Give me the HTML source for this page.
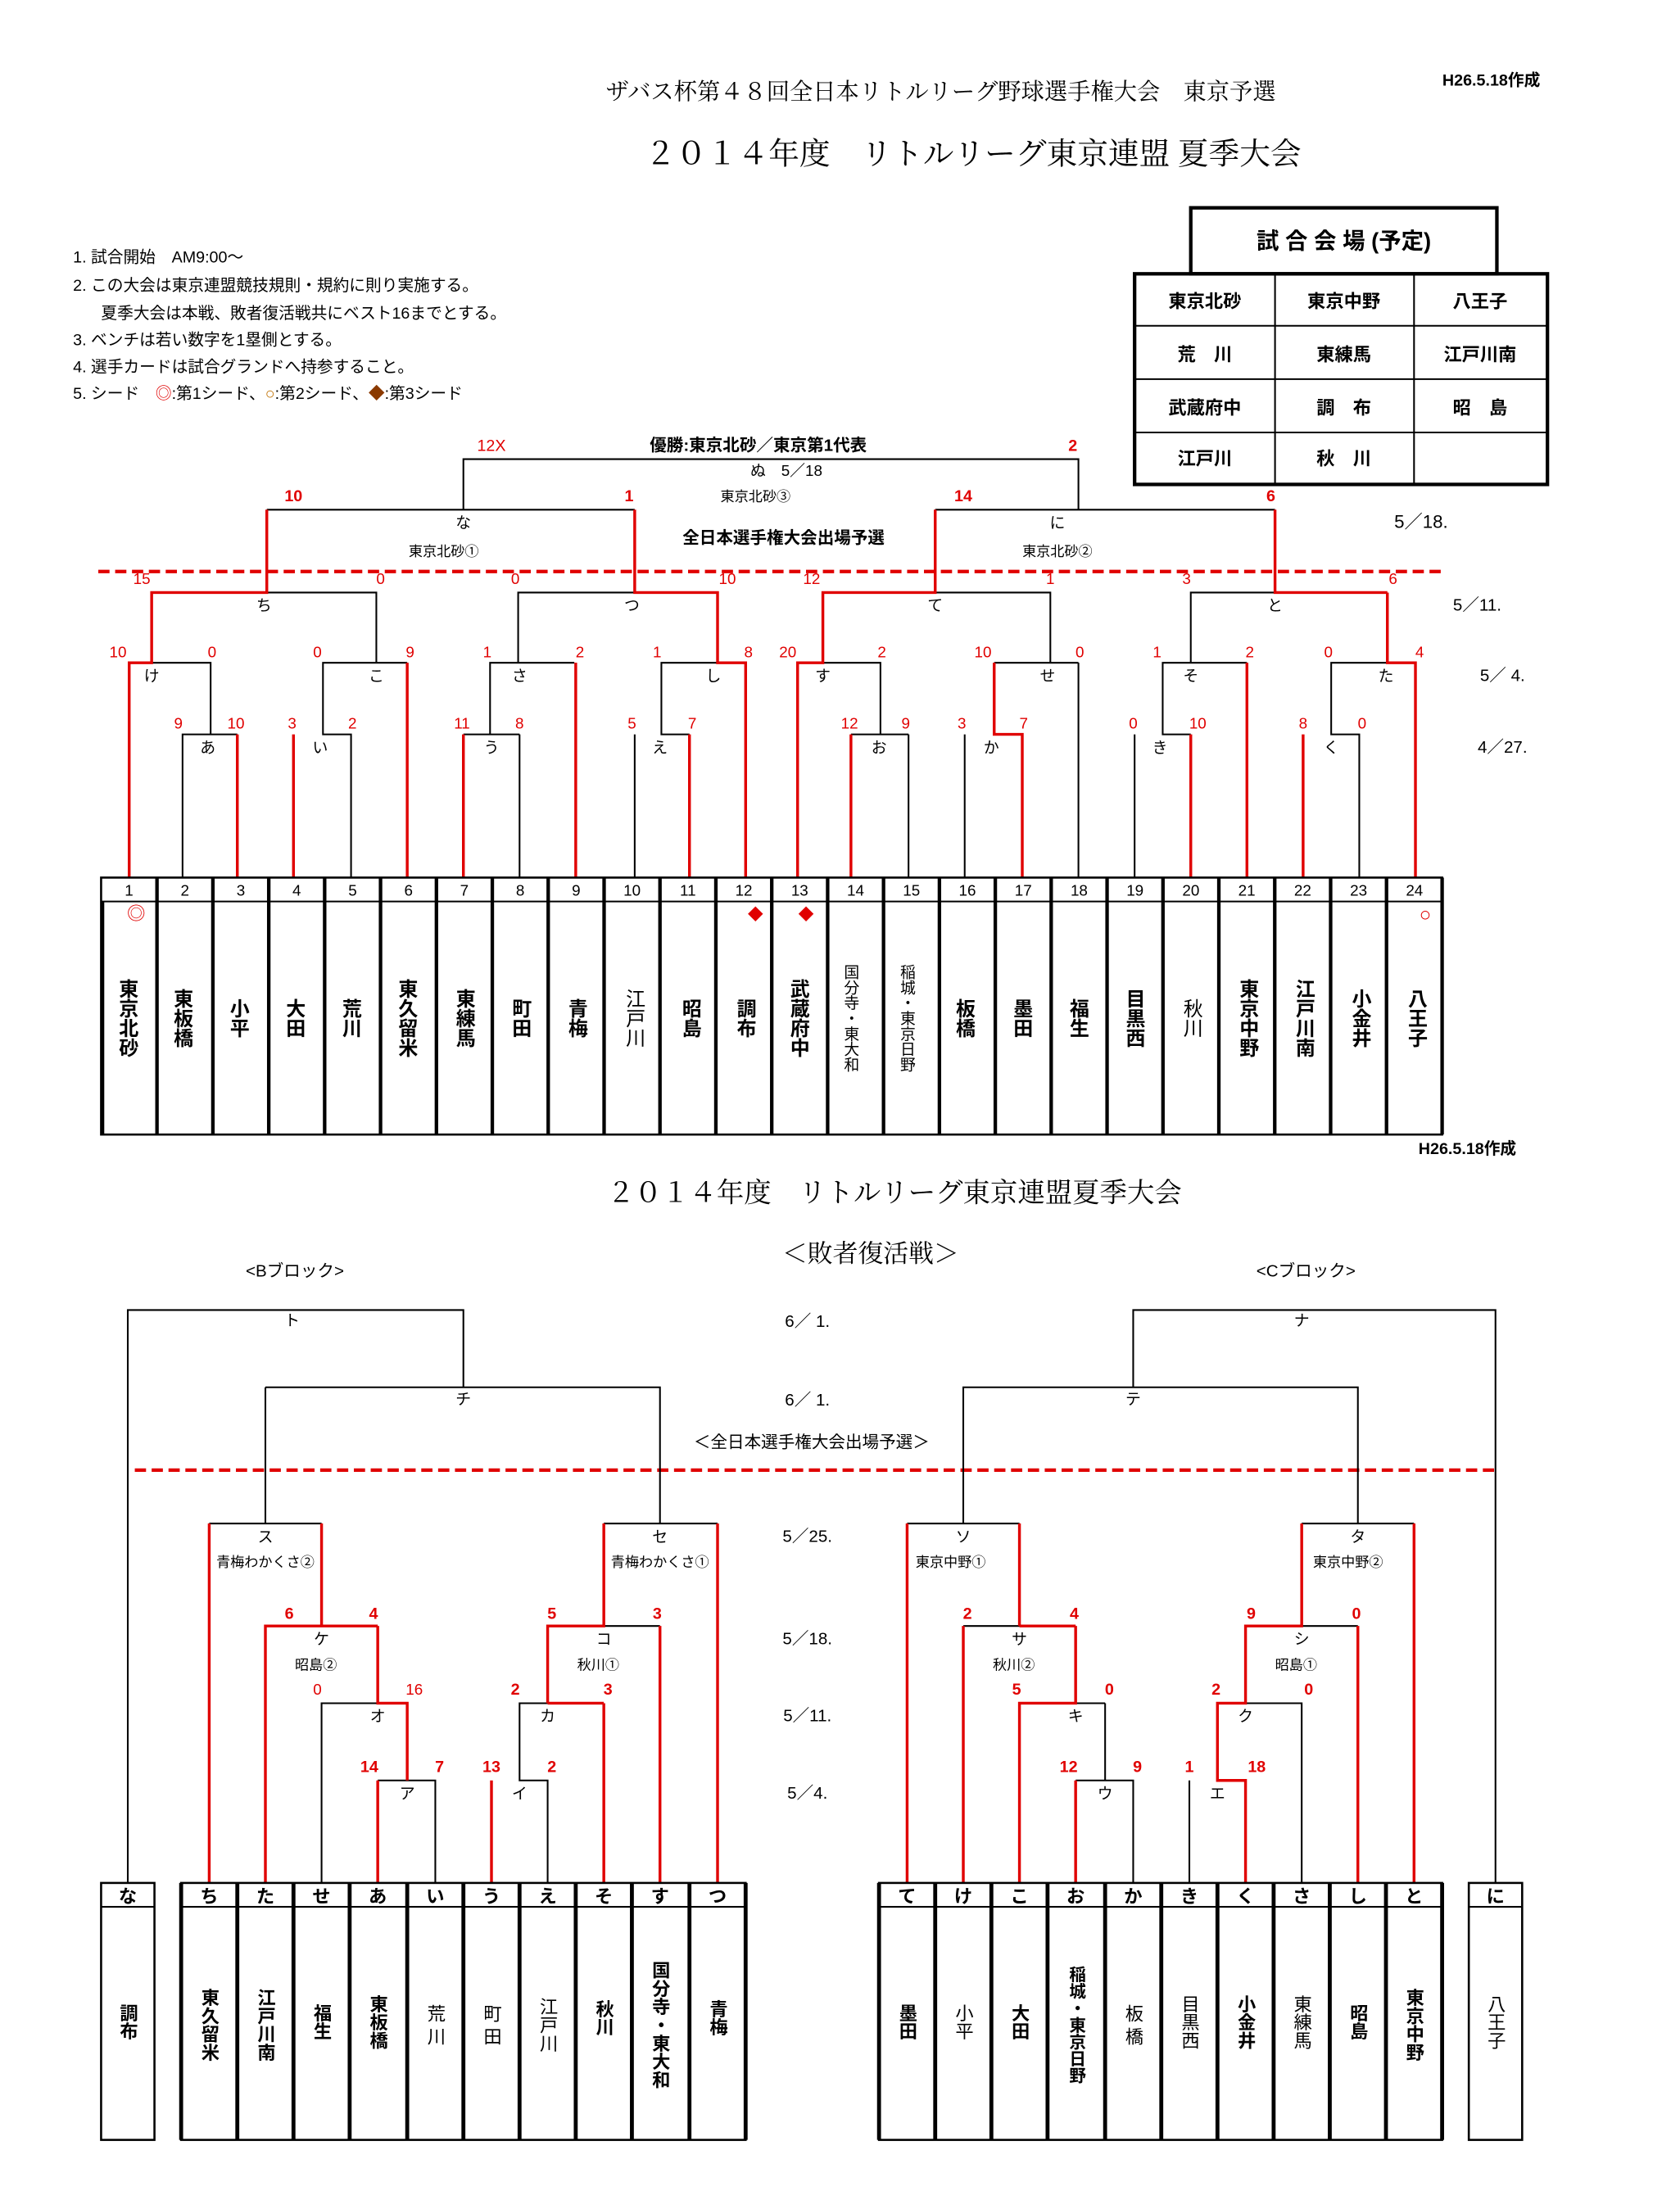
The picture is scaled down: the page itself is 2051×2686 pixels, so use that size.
<!DOCTYPE html>
<html><head><meta charset="utf-8"><style>
html,body{margin:0;padding:0;background:#fff}
svg{display:block}
text{font-family:"Liberation Sans","Noto Sans CJK JP",sans-serif;fill:#000}
.s{font-size:11px;fill:#e00000;text-anchor:middle}
.sb{font-size:11.5px;fill:#e00000;text-anchor:middle;font-weight:bold}
.l{font-size:11px;text-anchor:middle}
.n{font-size:11px;text-anchor:middle}
.v{font-size:14px;font-weight:bold;writing-mode:vertical-rl;text-anchor:middle}
.vs{font-size:11px;writing-mode:vertical-rl;text-anchor:middle}
.d{font-size:12px;text-anchor:middle}
.k{fill:none;stroke:#000;stroke-width:1.2}
.r{fill:none;stroke:#e00000;stroke-width:2}
.h{font-size:13px;font-weight:bold;text-anchor:middle}
</style></head><body>
<svg width="2051" height="2686" viewBox="0 0 1196.4 1566.8" xmlns="http://www.w3.org/2000/svg">
<!-- Header -->
<text x="670" y="71" style="font-size:16.5px;text-anchor:middle;font-family:'Liberation Serif','Noto Serif CJK SC',serif">ザバス杯第４８回全日本リトルリーグ野球選手権大会　東京予選</text>
<text x="1062" y="61" style="font-size:11.5px;font-weight:bold;text-anchor:middle">H26.5.18作成</text>
<text x="693" y="117" style="font-size:22px;text-anchor:middle;font-family:'Liberation Serif','Noto Serif CJK SC',serif">２０１４年度　リトルリーグ東京連盟 夏季大会</text>
<!-- notes -->
<g style="font-size:11.5px">
<text x="52" y="187">1. 試合開始　AM9:00〜</text>
<text x="52" y="207">2. この大会は東京連盟競技規則・規約に則り実施する。</text>
<text x="72" y="227">夏季大会は本戦、敗者復活戦共にベスト16までとする。</text>
<text x="52" y="246">3. ベンチは若い数字を1塁側とする。</text>
<text x="52" y="265">4. 選手カードは試合グランドへ持参すること。</text>
<text x="52" y="284">5. シード　<tspan fill="#e00000">◎</tspan>:第1シード、<tspan fill="#c07000">○</tspan>:第2シード、<tspan fill="#8b3a00">◆</tspan>:第3シード</text>
</g>
<!-- venue table -->
<rect x="848" y="148" width="218" height="47" fill="#fff" stroke="#000" stroke-width="2.5"/>
<text x="957" y="177" style="font-size:16px;text-anchor:middle;font-weight:bold">試 合 会 場 (予定)</text>
<rect x="808" y="195" width="294" height="150" fill="none" stroke="#000" stroke-width="2.5"/>
<path class="k" d="M808 232H1102M808 270H1102M808 308H1102M908 195V345M1007 195V345"/>
<g style="font-size:13px;text-anchor:middle;font-weight:bold">
<text x="858" y="219">東京北砂</text><text x="957" y="219">東京中野</text><text x="1054" y="219">八王子</text>
<text x="858" y="257">荒　川</text><text x="957" y="257">東練馬</text><text x="1054" y="257">江戸川南</text>
<text x="858" y="295">武蔵府中</text><text x="957" y="295">調　布</text><text x="1054" y="295">昭　島</text>
<text x="858" y="331">江戸川</text><text x="957" y="331">秋　川</text>
</g>

<!-- TOP BRACKET texts -->
<text x="350" y="321" class="sb" style="font-weight:normal">12X</text>
<text x="764" y="321" class="sb">2</text>
<text x="540" y="321" style="font-size:12px;font-weight:bold;text-anchor:middle">優勝:東京北砂／東京第1代表</text>
<text x="560" y="339" class="l">ぬ　5／18</text>
<text x="538" y="357" style="font-size:10px;text-anchor:middle">東京北砂③</text>
<text x="209" y="357" class="sb">10</text><text x="448" y="357" class="sb">1</text>
<text x="686" y="357" class="sb">14</text><text x="905" y="357" class="sb">6</text>
<text x="330" y="376" class="l">な</text><text x="316" y="396" style="font-size:10px;text-anchor:middle">東京北砂①</text>
<text x="753" y="376" class="l">に</text><text x="753" y="396" style="font-size:10px;text-anchor:middle">東京北砂②</text>
<text x="558" y="387" style="font-size:12px;font-weight:bold;text-anchor:middle">全日本選手権大会出場予選</text>
<text x="1012" y="376" style="font-size:13px;text-anchor:middle">5／18.</text>
<text x="101" y="416" class="s">15</text><text x="271" y="416" class="s">0</text><text x="367" y="416" class="s">0</text><text x="518" y="416" class="s">10</text>
<text x="578" y="416" class="s">12</text><text x="748" y="416" class="s">1</text><text x="845" y="416" class="s">3</text><text x="992" y="416" class="s">6</text>
<text x="188" y="435" class="l">ち</text><text x="450" y="435" class="l">つ</text><text x="666" y="435" class="l">て</text><text x="908" y="435" class="l">と</text>
<text x="1052" y="435" class="d">5／11.</text>
<text x="84" y="468" class="s">10</text><text x="151" y="468" class="s">0</text><text x="226" y="468" class="s">0</text><text x="292" y="468" class="s">9</text>
<text x="347" y="468" class="s">1</text><text x="413" y="468" class="s">2</text><text x="468" y="468" class="s">1</text><text x="533" y="468" class="s">8</text>
<text x="561" y="468" class="s">20</text><text x="628" y="468" class="s">2</text><text x="700" y="468" class="s">10</text><text x="769" y="468" class="s">0</text>
<text x="824" y="468" class="s">1</text><text x="890" y="468" class="s">2</text><text x="946" y="468" class="s">0</text><text x="1011" y="468" class="s">4</text>
<text x="108" y="485" class="l">け</text><text x="268" y="485" class="l">こ</text><text x="370" y="485" class="l">さ</text><text x="508" y="485" class="l">し</text>
<text x="586" y="485" class="l">す</text><text x="746" y="485" class="l">せ</text><text x="848" y="485" class="l">そ</text><text x="987" y="485" class="l">た</text>
<text x="1070" y="485" class="d">5／ 4.</text>
<text x="127" y="519" class="s">9</text><text x="168" y="519" class="s">10</text><text x="208" y="519" class="s">3</text><text x="251" y="519" class="s">2</text>
<text x="329" y="519" class="s">11</text><text x="370" y="519" class="s">8</text><text x="450" y="519" class="s">5</text><text x="493" y="519" class="s">7</text>
<text x="605" y="519" class="s">12</text><text x="645" y="519" class="s">9</text><text x="685" y="519" class="s">3</text><text x="729" y="519" class="s">7</text>
<text x="807" y="519" class="s">0</text><text x="853" y="519" class="s">10</text><text x="928" y="519" class="s">8</text><text x="970" y="519" class="s">0</text>
<text x="148" y="536" class="l">あ</text><text x="228" y="536" class="l">い</text><text x="350" y="536" class="l">う</text><text x="470" y="536" class="l">え</text>
<text x="626" y="536" class="l">お</text><text x="706" y="536" class="l">か</text><text x="826" y="536" class="l">き</text><text x="948" y="536" class="l">く</text>
<text x="1070" y="536" class="d">4／27.</text>

<!-- dashed -->
<path d="M70 407H1030" stroke="#e00000" stroke-width="2.5" stroke-dasharray="8 4" fill="none"/>
<!-- top black lines -->
<path class="k" d="M108 472H150V523M130 625V523H169
M250 625V523H230V472H290M268 472V422H190M190 363H452M330 363V327H768V363
M330 523H370M370 625V523M349 523V472H409M369 472V422H452
M452 625V523M491 523H471V472H531
M586 472H627V523M606 523H647M647 625V523
M666 422H748V472M708 472H768M768 625V472M687 625V523
M666 363H908
M808 625V523M848 523H828V472H888M848 472V422H908
M968 625V523H948V472H988"/>
<!-- top red lines -->
<path class="r" d="M92 625V472H108V422H190V363M169 625V523M209 625V523M290 625V472
M330 625V523M410 625V472M491 625V523M531 625V472H511V422H452V363
M568 625V472H586V422H666V363M606 625V523M728 625V523H708V472
M848 625V523M888 625V472M988 422H908V363M928 625V523M1008 625V472H988V422"/>

<!-- top columns -->
<rect x="72" y="625" width="955" height="183" fill="none" stroke="#000" stroke-width="1.5"/>
<path d="M72 642H1027" stroke="#000" stroke-width="1.2"/>
<path stroke="#000" stroke-width="2.5" d="M111.8 625V808M151.6 625V808M191.4 625V808M231.2 625V808M271 625V808M310.8 625V808M350.6 625V808M390.4 625V808M430.2 625V808M470 625V808M509.8 625V808M549.6 625V808M589.4 625V808M629.2 625V808M669 625V808M708.8 625V808M748.6 625V808M788.4 625V808M828.2 625V808M868 625V808M907.8 625V808M947.6 625V808M987.4 625V808M1027 625V808M73 642V808"/>
<g class="n">
<text x="91.9" y="638" class="n">1</text><text x="131.7" y="638" class="n">2</text><text x="171.5" y="638" class="n">3</text><text x="211.3" y="638" class="n">4</text>
<text x="251.1" y="638" class="n">5</text><text x="290.9" y="638" class="n">6</text><text x="330.7" y="638" class="n">7</text><text x="370.5" y="638" class="n">8</text>
<text x="410.3" y="638" class="n">9</text><text x="450.1" y="638" class="n">10</text><text x="489.9" y="638" class="n">11</text><text x="529.7" y="638" class="n">12</text>
<text x="569.5" y="638" class="n">13</text><text x="609.3" y="638" class="n">14</text><text x="649.1" y="638" class="n">15</text><text x="688.9" y="638" class="n">16</text>
<text x="728.7" y="638" class="n">17</text><text x="768.5" y="638" class="n">18</text><text x="808.3" y="638" class="n">19</text><text x="848.1" y="638" class="n">20</text>
<text x="887.9" y="638" class="n">21</text><text x="927.7" y="638" class="n">22</text><text x="967.5" y="638" class="n">23</text><text x="1007.3" y="638" class="n">24</text>
</g>
<text x="97" y="655" style="font-size:13px;fill:#e00000;text-anchor:middle">◎</text>
<text x="538" y="655" style="font-size:11px;fill:#e00000;text-anchor:middle">◆</text>
<text x="574" y="655" style="font-size:11px;fill:#e00000;text-anchor:middle">◆</text>
<text x="1015" y="656" style="font-size:14px;fill:#e00000;text-anchor:middle">○</text>
<text x="90" y="725" class="v">東京北砂</text>
<text x="129" y="725" class="v">東板橋</text>
<text x="169" y="725" class="v">小平</text>
<text x="209" y="725" class="v">大田</text>
<text x="249" y="725" class="v">荒川</text>
<text x="289" y="725" class="v">東久留米</text>
<text x="330" y="725" class="v">東練馬</text>
<text x="370" y="725" class="v">町田</text>
<text x="410" y="725" class="v">青梅</text>
<text x="451" y="725" class="v" style="font-weight:normal">江戸川</text>
<text x="491" y="725" class="v">昭島</text>
<text x="530" y="725" class="v">調布</text>
<text x="568" y="725" class="v">武蔵府中</text>
<text x="606" y="725" class="vs">国分寺・東大和</text>
<text x="646" y="725" class="vs">稲城・東京日野</text>
<text x="686" y="725" class="v">板橋</text>
<text x="727" y="725" class="v">墨田</text>
<text x="767" y="725" class="v">福生</text>
<text x="807" y="725" class="v">目黒西</text>
<text x="848" y="725" class="v" style="font-weight:normal">秋川</text>
<text x="888" y="725" class="v">東京中野</text>
<text x="928" y="725" class="v">江戸川南</text>
<text x="968" y="725" class="v">小金井</text>
<text x="1008" y="725" class="v">八王子</text>

<!-- BOTTOM -->
<text x="1045" y="822" style="font-size:11.5px;font-weight:bold;text-anchor:middle">H26.5.18作成</text>
<text x="637" y="856" style="font-size:19.5px;text-anchor:middle;font-family:'Liberation Serif','Noto Serif CJK SC',serif">２０１４年度　リトルリーグ東京連盟夏季大会</text>
<text x="620" y="899" style="font-size:18px;text-anchor:middle;font-family:'Liberation Serif','Noto Serif CJK SC',serif">＜敗者復活戦＞</text>
<text x="210" y="909" style="font-size:12px;text-anchor:middle">&lt;Bブロック&gt;</text>
<text x="930" y="909" style="font-size:12px;text-anchor:middle">&lt;Cブロック&gt;</text>
<text x="575" y="945" class="d">6／ 1.</text>
<text x="575" y="1001" class="d">6／ 1.</text>
<text x="578" y="1031" style="font-size:12px;text-anchor:middle">＜全日本選手権大会出場予選＞</text>
<text x="575" y="1098" class="d">5／25.</text>
<text x="575" y="1171" class="d">5／18.</text>
<text x="575" y="1226" class="d">5／11.</text>
<text x="575" y="1281" class="d">5／4.</text>
<path d="M96 1047H1068" stroke="#e00000" stroke-width="2.5" stroke-dasharray="8 4" fill="none"/>

<path class="k" d="M91 1341V933H330V988M189 988H470V1085M189 988V1085M149 1085H229
M269 1268H310V1341M229 1341V1213H269
M390 1341V1268H370V1213H390M430 1085H511M430 1158H470
M646 1085H726M686 1085V988H967V1085M807 988V933H1065V1341
M686 1158H726M766 1213H787M766 1268H807V1341M787 1268V1213
M847 1341V1268M887 1213H927V1341M927 1158H967M927 1085H1007"/>
<path class="r" d="M149 1341V1085M229 1085V1158M189 1341V1158H269M269 1341V1268M290 1268V1213H269V1158
M350 1341V1268M390 1213H430M430 1341V1213M390 1213V1158H430V1085M511 1341V1085M470 1341V1158
M646 1341V1085M686 1341V1158M726 1158H766M726 1158V1085M726 1341V1213H766V1158M766 1341V1268
M887 1341V1268H867V1213H887V1158H927V1085M967 1341V1158M1007 1341V1085"/>

<text x="208" y="944" class="l">ト</text><text x="330" y="1000" class="l">チ</text>
<text x="807" y="1000" class="l">テ</text><text x="927" y="944" class="l">ナ</text>
<text x="189" y="1098" class="l">ス</text><text x="189" y="1116" style="font-size:10px;text-anchor:middle">青梅わかくさ②</text>
<text x="470" y="1098" class="l">セ</text><text x="470" y="1116" style="font-size:10px;text-anchor:middle">青梅わかくさ①</text>
<text x="686" y="1098" class="l">ソ</text><text x="677" y="1116" style="font-size:10px;text-anchor:middle">東京中野①</text>
<text x="967" y="1098" class="l">タ</text><text x="960" y="1116" style="font-size:10px;text-anchor:middle">東京中野②</text>
<text x="206" y="1153" class="sb">6</text><text x="266" y="1153" class="sb">4</text>
<text x="393" y="1153" class="sb">5</text><text x="468" y="1153" class="sb">3</text>
<text x="689" y="1153" class="sb">2</text><text x="765" y="1153" class="sb">4</text>
<text x="891" y="1153" class="sb">9</text><text x="966" y="1153" class="sb">0</text>
<text x="229" y="1171" class="l">ケ</text><text x="225" y="1189" style="font-size:10px;text-anchor:middle">昭島②</text>
<text x="430" y="1171" class="l">コ</text><text x="426" y="1189" style="font-size:10px;text-anchor:middle">秋川①</text>
<text x="726" y="1171" class="l">サ</text><text x="722" y="1189" style="font-size:10px;text-anchor:middle">秋川②</text>
<text x="927" y="1171" class="l">シ</text><text x="923" y="1189" style="font-size:10px;text-anchor:middle">昭島①</text>
<text x="226" y="1207" class="s">0</text><text x="295" y="1207" class="s">16</text>
<text x="367" y="1207" class="sb">2</text><text x="433" y="1207" class="sb">3</text>
<text x="724" y="1207" class="sb">5</text><text x="790" y="1207" class="sb">0</text>
<text x="866" y="1207" class="sb">2</text><text x="932" y="1207" class="sb">0</text>
<text x="269" y="1226" class="l">オ</text><text x="390" y="1226" class="l">カ</text>
<text x="766" y="1226" class="l">キ</text><text x="887" y="1226" class="l">ク</text>
<text x="263" y="1262" class="sb">14</text><text x="313" y="1262" class="sb">7</text>
<text x="350" y="1262" class="sb">13</text><text x="393" y="1262" class="sb">2</text>
<text x="761" y="1262" class="sb">12</text><text x="810" y="1262" class="sb">9</text>
<text x="847" y="1262" class="sb">1</text><text x="895" y="1262" class="sb">18</text>
<text x="290" y="1281" class="l">ア</text><text x="370" y="1281" class="l">イ</text>
<text x="787" y="1281" class="l">ウ</text><text x="867" y="1281" class="l">エ</text>

<!-- bottom boxes -->
<g fill="none" stroke="#000">
<rect x="72" y="1341" width="38" height="183" stroke-width="1.5"/>
<rect x="1046" y="1341" width="38" height="183" stroke-width="1.5"/>
<rect x="129" y="1341" width="402" height="183" stroke-width="1.5"/>
<rect x="626" y="1341" width="401" height="183" stroke-width="1.5"/>
<path stroke-width="1.2" d="M72 1358H110M1046 1358H1084M129 1358H531M626 1358H1027"/>
<path stroke-width="2.8" d="M129 1341V1524M169 1341V1524M209 1341V1524M249 1341V1524M290 1341V1524M330 1341V1524M370 1341V1524M410 1341V1524M450 1341V1524M491 1341V1524M531 1341V1524
M626 1341V1524M666 1341V1524M706 1341V1524M746 1341V1524M787 1341V1524M827 1341V1524M867 1341V1524M907 1341V1524M947 1341V1524M987 1341V1524M1027 1341V1524"/>
</g>
<g class="h">
<text x="91" y="1355" class="h">な</text><text x="1065" y="1355" class="h">に</text>
<text x="149" y="1355" class="h">ち</text><text x="189" y="1355" class="h">た</text><text x="229" y="1355" class="h">せ</text><text x="269" y="1355" class="h">あ</text><text x="310" y="1355" class="h">い</text>
<text x="350" y="1355" class="h">う</text><text x="390" y="1355" class="h">え</text><text x="430" y="1355" class="h">そ</text><text x="470" y="1355" class="h">す</text><text x="511" y="1355" class="h">つ</text>
<text x="646" y="1355" class="h">て</text><text x="686" y="1355" class="h">け</text><text x="726" y="1355" class="h">こ</text><text x="766" y="1355" class="h">お</text><text x="807" y="1355" class="h">か</text>
<text x="847" y="1355" class="h">き</text><text x="887" y="1355" class="h">く</text><text x="927" y="1355" class="h">さ</text><text x="967" y="1355" class="h">し</text><text x="1007" y="1355" class="h">と</text>
</g>
<text x="91" y="1440" class="v" style="font-size:13px">調布</text>
<text x="149" y="1442" class="v" style="font-size:13px">東久留米</text>
<text x="189" y="1442" class="v" style="font-size:13px">江戸川南</text>
<text x="229" y="1440" class="v" style="font-size:13px">福生</text>
<text x="269" y="1440" class="v" style="font-size:13px">東板橋</text>
<text x="310" y="1442" class="v" style="font-size:13px;font-weight:normal">荒 川</text>
<text x="350" y="1442" class="v" style="font-size:13px;font-weight:normal">町 田</text>
<text x="390" y="1442" class="v" style="font-size:13px;font-weight:normal">江戸川</text>
<text x="430" y="1437" class="v" style="font-size:13px">秋川</text>
<text x="470" y="1442" class="v" style="font-size:13px">国分寺・東大和</text>
<text x="511" y="1437" class="v" style="font-size:13px">青梅</text>
<text x="646" y="1440" class="v" style="font-size:13px">墨田</text>
<text x="686" y="1440" class="v" style="font-size:13px;font-weight:normal">小平</text>
<text x="726" y="1440" class="v" style="font-size:13px">大田</text>
<text x="766" y="1442" class="v" style="font-size:12px">稲城・東京日野</text>
<text x="807" y="1442" class="v" style="font-size:13px;font-weight:normal">板 橋</text>
<text x="847" y="1440" class="v" style="font-size:13px;font-weight:normal">目黒西</text>
<text x="887" y="1440" class="v" style="font-size:13px">小金井</text>
<text x="927" y="1440" class="v" style="font-size:13px;font-weight:normal">東練馬</text>
<text x="967" y="1440" class="v" style="font-size:13px">昭島</text>
<text x="1007" y="1442" class="v" style="font-size:13px">東京中野</text>
<text x="1065" y="1440" class="v" style="font-size:13px;font-weight:normal">八王子</text>
</svg>
</body></html>
